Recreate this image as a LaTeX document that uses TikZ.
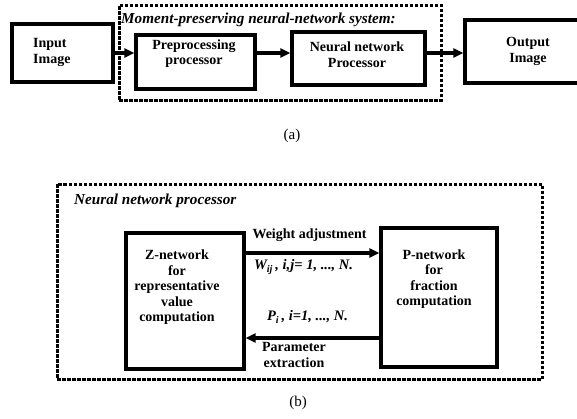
\documentclass[tikz,border=0pt]{standalone}
\usepackage{fontspec}
\setmainfont{Liberation Serif}
\usetikzlibrary{arrows.meta}
\begin{document}
\begin{tikzpicture}[x=1pt,y=-1pt,
  box/.style={draw, line width=3.4pt, inner sep=0pt},
  dbox/.style={draw, line width=3pt, dash pattern=on 3.5pt off 1.5pt, inner sep=0pt},
  txt/.style={font=\fontsize{14}{15.5}\selectfont\bfseries, align=center, inner sep=0pt},
  ital/.style={font=\fontsize{15.2}{17}\selectfont\bfseries\itshape, inner sep=0pt},
  itals/.style={font=\fontsize{14.5}{16}\selectfont\bfseries\itshape, inner sep=0pt},
  captxt/.style={font=\fontsize{15}{17}\selectfont, inner sep=0pt},
  arr/.style={line width=3.4pt, -{Triangle[length=10pt,width=9pt]}}]
\useasboundingbox (0,0) rectangle (577,418);
\clip (0,0) rectangle (577,418);
% ---------- (a) ----------
\node[dbox, minimum width=322pt, minimum height=95pt] (sysa) at (280,52.5) {};
\node[ital, anchor=base west] (sysalbl) at (121,23) {Moment-preserving neural-network system:};
\node[box, minimum width=101pt, minimum height=58pt] (in) at (62.5,53) {};
\node[txt, align=left, anchor=west] (intxt) at (33,52.5) {Input\\Image};
\node[box, minimum width=119pt, minimum height=54pt] (pre) at (195.5,62) {};
\node[txt] (pretxt) at (194,53.5) {Preprocessing\\processor};
\node[box, minimum width=133pt, minimum height=53pt] (nn) at (358.5,58.5) {};
\node[txt] (nntxt) at (357,54.5) {Neural network\\Processor};
\node[box, minimum width=125pt, minimum height=63pt] (out) at (527.5,51.5) {};
\node[txt] (outtxt) at (528,51.5) {Output\\Image};
\coordinate (ya) at (0,53);
\draw[arr] (in.east |- ya) -- (pre.west |- ya);
\draw[arr] (pre.east |- ya) -- (nn.west |- ya);
\draw[arr] (nn.east |- ya) -- (out.west |- ya);
\node[captxt] (capa) at (292,136) {(a)};
% ---------- (b) ----------
\node[dbox, minimum width=485pt, minimum height=195pt] (sysb) at (299.5,281.5) {};
\node[ital, anchor=west] (sysblbl) at (74,201) {Neural network processor};
\node[box, minimum width=118pt, minimum height=136pt] (zb) at (185,301) {};
\node[txt] (ztxt) at (177,287.5) {Z-network\\for\\representative\\value\\computation};
\node[box, minimum width=116pt, minimum height=139pt] (pb) at (439,297.5) {};
\node[txt] (ptxt) at (434,279) {P-network\\for\\fraction\\computation};
\coordinate (yb1) at (0,253);
\coordinate (yb2) at (0,338);
\draw[arr] (zb.east |- yb1) -- (pb.west |- yb1);
\draw[arr] (pb.west |- yb2) -- (zb.east |- yb2);
\node[txt] (wadj) at (309.5,235) {Weight adjustment};
\node[itals] (wij) at (303.5,267) {W\textsubscript{ij}\,, i,j= 1, ..., N.};
\node[itals] (pi) at (307.5,317) {P\textsubscript{i}\,, i=1, ..., N.};
\node[txt] (pext) at (294,355) {Parameter\\extraction};
\node[captxt] (capb) at (298,403) {(b)};
\end{tikzpicture}
\end{document}
